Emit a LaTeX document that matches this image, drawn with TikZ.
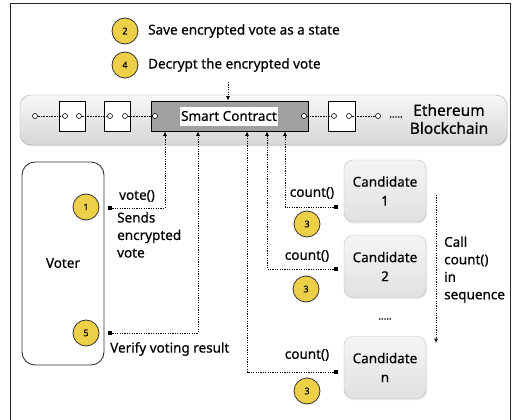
\documentclass[tikz,border=0pt]{standalone}
\usepackage{fontspec}
\setmainfont{Noto Sans}[FakeBold=0.5]
\usetikzlibrary{arrows.meta,shadows}
\definecolor{ylw}{RGB}{238,207,72}
\definecolor{scgray}{RGB}{160,160,160}
\tikzset{
  num/.style={circle, draw=black!80, line width=0.8pt, fill=ylw, minimum size=26pt, inner sep=0pt, font=\fontsize{9}{10}\selectfont},
  dot/.style={circle, draw=black, line width=0.6pt, fill=white, minimum size=5pt, inner sep=0pt},
  blk/.style={draw=black, line width=0.8pt, fill=white, minimum width=26pt, minimum height=30pt, inner sep=0pt},
  chain/.style={densely dotted, line width=0.6pt},
  dotarrow/.style={dash pattern=on 1.2pt off 1.2pt, line width=0.8pt, -{Latex[length=4.5pt,width=4pt]}},
  endsq/.style={fill=black, minimum size=4.5pt, inner sep=0pt},
  cand/.style={draw=black!25, rounded corners=9pt, top color=white!96!black, bottom color=black!12, minimum width=82pt, minimum height=62pt, align=center, inner sep=0pt, font=\fontsize{13.5}{19}\selectfont, drop shadow={opacity=0.15, shadow xshift=1pt, shadow yshift=-1.5pt}},
  txt/.style={inner sep=0pt}
}
\begin{document}
\begin{tikzpicture}[x=1pt,y=-1pt, font=\fontsize{13.5}{17.5}\selectfont]
\useasboundingbox (0,0) rectangle (517,420);
\fill[white] (0,0) rectangle (517,420);
\draw[line width=1pt, black!85] (10,430) -- (10,4) -- (510,4) -- (510,430);

% blockchain band
\node[draw=black!35, rounded corners=11pt, top color=black!3, bottom color=black!16, minimum width=487pt, minimum height=50pt, inner sep=0pt, drop shadow={opacity=0.2, shadow xshift=0.8pt, shadow yshift=-1.2pt}] (band) at (263.5,120) {};

% blocks
\node[blk] (b1) at (72,116) {};
\node[blk] (b2) at (117,116) {};
\node[blk, fill=scgray, minimum width=157pt] (sc) at (229.5,116) {};
\node[blk, minimum width=27pt] (b3) at (341.5,116) {};
\node[fill=white, minimum width=98pt, minimum height=19pt, inner sep=0pt, font=\fontsize{13.5}{15}\selectfont] (sclab) at (229,116) {Smart Contract};

% chain dots
\node[dot] (c0) at (35,116) {};
\node[dot] (b1l) at (65,116) {};
\node[dot] (b1r) at (79,116) {};
\node[dot] (b2l) at (110,116) {};
\node[dot] (b2r) at (125,116) {};
\node[dot] (scl) at (155,116) {};
\node[dot] (scr) at (304,116) {};
\node[dot] (b3l) at (334,116) {};
\node[dot] (b3r) at (349,116) {};
\node[dot] (c9) at (378,116) {};
\draw[chain] (c0) -- (b1l);
\draw[chain] (b1r) -- (b2l);
\draw[chain] (b2r) -- (scl);
\draw[chain] (scr) -- (b3l);
\draw[chain] (b3r) -- (c9);
\node[txt, font=\fontsize{10}{12}\selectfont] (dots1) at (396,117) {.....};
\node[align=center, inner sep=0pt, font=\fontsize{15.5}{18}\selectfont] (eth) at (449,119) {Ethereum\\Blockchain};

% top labels
\node[num] (n2) at (125,31) {2};
\node[txt, anchor=west] (t2) at (148,31) {Save encrypted vote as a state};
\node[num] (n4) at (125,65) {4};
\node[txt, anchor=west] (t4) at (148,65) {Decrypt the encrypted vote};
\coordinate (a4) at (228,82);
\draw[dotarrow] (a4) -- (a4 |- sc.north);

% voter
\node[draw=black!80, line width=0.9pt, rounded corners=13pt, fill=white, minimum width=82pt, minimum height=203pt, inner sep=0pt] (voter) at (63,263.5) {};
\node[txt] (vlab) at (63,263) {Voter};
\node[num] (n1) at (86,207) {1};
\node[num] (n5) at (86,333) {5};
\node[endsq] (s1) at (110,208) {};
\node[endsq] (s5) at (110,333) {};
\coordinate (p1) at (165,0);
\coordinate (p5) at (198,0);
\draw[dotarrow] (s1.center) -| (p1 |- sc.south);
\draw[dotarrow] (s5.center) -| (p5 |- sc.south);
\node[txt] (vote) at (137,196) {vote()};
\node[txt, anchor=north west, align=left] (sends) at (117,212) {Sends\\encrypted\\vote};
\node[txt, anchor=west] (verify) at (110,349) {Verify voting result};

% candidates
\node[cand] (k1) at (385,191) {Candidate\\1};
\node[cand] (k2) at (385,266.5) {Candidate\\2};
\node[cand] (kn) at (385,367.5) {Candidate\\n};
\node[txt, font=\fontsize{10}{12}\selectfont] (kdots) at (385,319) {.....};
\node[endsq] (q1) at (336,207) {};
\node[endsq] (q2) at (336,269) {};
\node[endsq] (qn) at (336,372) {};
\coordinate (r1) at (285,0);
\coordinate (r2) at (267,0);
\coordinate (rn) at (247,0);
\draw[dotarrow] (q1.center) -| (r1 |- sc.south);
\draw[dotarrow] (q2.center) -| (r2 |- sc.south);
\draw[dotarrow] (qn.center) -| (rn |- sc.south);
\node[txt] (cnt1) at (312,193) {count()};
\node[txt] (cnt2) at (307,256) {count()};
\node[txt] (cntn) at (307,355) {count()};
\node[num] (n31) at (307,224) {3};
\node[num] (n32) at (306,289) {3};
\node[num] (n3n) at (307,391) {3};

\coordinate (cs) at (436,195);
\coordinate (ce) at (436,343);
\draw[dotarrow] (cs) -- (ce);
\node[txt, anchor=west, align=left] (call) at (444,269.5) {Call\\count()\\in\\sequence};
\end{tikzpicture}
\end{document}
